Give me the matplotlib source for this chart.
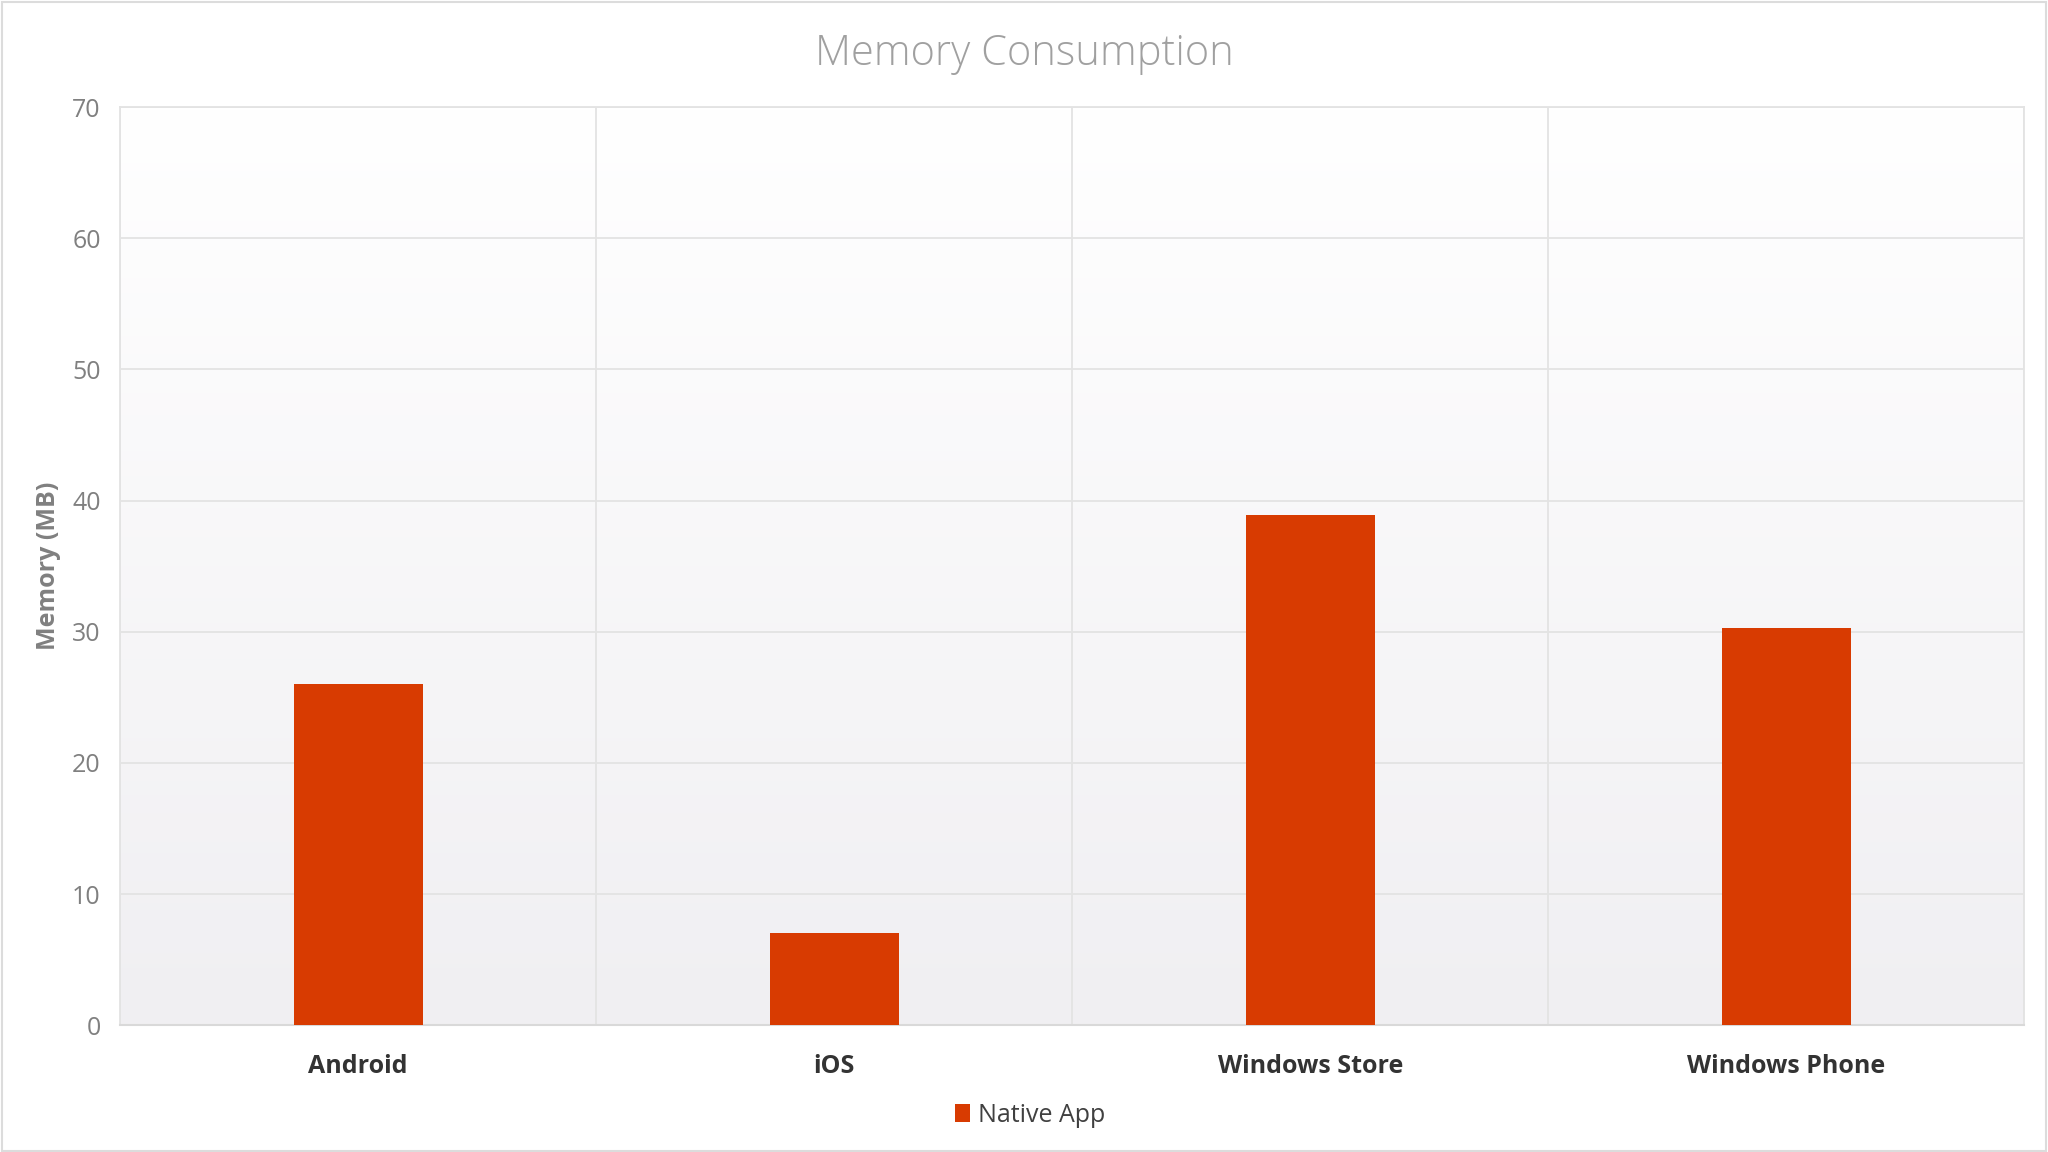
import matplotlib
matplotlib.use("Agg")
import matplotlib.pyplot as plt
import numpy as np
from matplotlib.patches import Rectangle
from matplotlib.colors import LinearSegmentedColormap

categories = ["Android", "iOS", "Windows Store", "Windows Phone"]
native_app = [26.0, 7.0, 38.9, 30.3]
series_name = "Native App"
yticks = [0, 10, 20, 30, 40, 50, 60, 70]
title = "Memory Consumption"
ylabel = "Memory (MB)"

BAR = "#D83B01"
FONT = ["Open Sans", "Noto Sans", "DejaVu Sans"]

fig = plt.figure(figsize=(20.48, 11.52), dpi=100)
fig.patch.set_facecolor("white")
fig.add_artist(Rectangle((0.001, 0.001), 0.998, 0.997, transform=fig.transFigure,
                         fill=False, edgecolor="#dcdcdc", linewidth=1.5))

ax = fig.add_axes([0.0587, 0.110, 0.9298, 0.797])
ax.set_xlim(-0.5, len(categories) - 0.5)
ax.set_ylim(0, 70)

# gradient background
cmap = LinearSegmentedColormap.from_list("bg", ["#f0eff2", "#ffffff"])
grad = np.linspace(0, 1, 256).reshape(-1, 1)
ax.imshow(grad, extent=(-0.5, len(categories) - 0.5, 0, 70), origin="lower",
          aspect="auto", cmap=cmap, zorder=0)

x = np.arange(len(categories))
ax.bar(x, native_app, width=0.27, color=BAR, zorder=3, label=series_name)

ax.set_yticks(yticks)
ax.set_yticklabels([str(t) for t in yticks], fontsize=18, color="#808080", family=FONT)
ax.grid(axis="y", color="#e3e3e3", linewidth=1.3, zorder=1)
ax.set_xticks(np.arange(-0.5, len(categories) + 0.5, 1), minor=False)
ax.set_xticklabels([""] * (len(categories) + 1))
ax.grid(axis="x", color="#e3e3e3", linewidth=1.3, zorder=1)
ax.set_xticks(x, minor=True)
ax.set_xticklabels(categories, minor=True, fontsize=18, fontweight="bold",
                   color="#333333", family=FONT)
ax.tick_params(axis="both", which="both", length=0)
ax.tick_params(axis="x", which="minor", pad=21)
ax.tick_params(axis="y", pad=14)

for s in ["left", "right", "top"]:
    ax.spines[s].set_color("#e3e3e3")
    ax.spines[s].set_linewidth(1.3)
ax.spines["bottom"].set_color("#d9d9d9")
ax.spines["bottom"].set_linewidth(1.5)

ax.set_ylabel(ylabel, fontsize=18, fontweight="bold", color="#808080", family=FONT)
ax.yaxis.set_label_coords(-0.031, 0.5)

fig.text(0.5, 0.9535, title, ha="center", va="center", fontsize=30,
         fontweight="light", color="#a0a0a0", family=FONT)

leg = fig.legend(loc="center", bbox_to_anchor=(0.503, 0.032), frameon=False,
                 prop={"family": FONT, "size": 18}, handlelength=0.6,
                 handleheight=0.7, handletextpad=0.3)
for t in leg.get_texts():
    t.set_color("#404040")

fig.savefig("out.png", dpi=100, facecolor="white")
